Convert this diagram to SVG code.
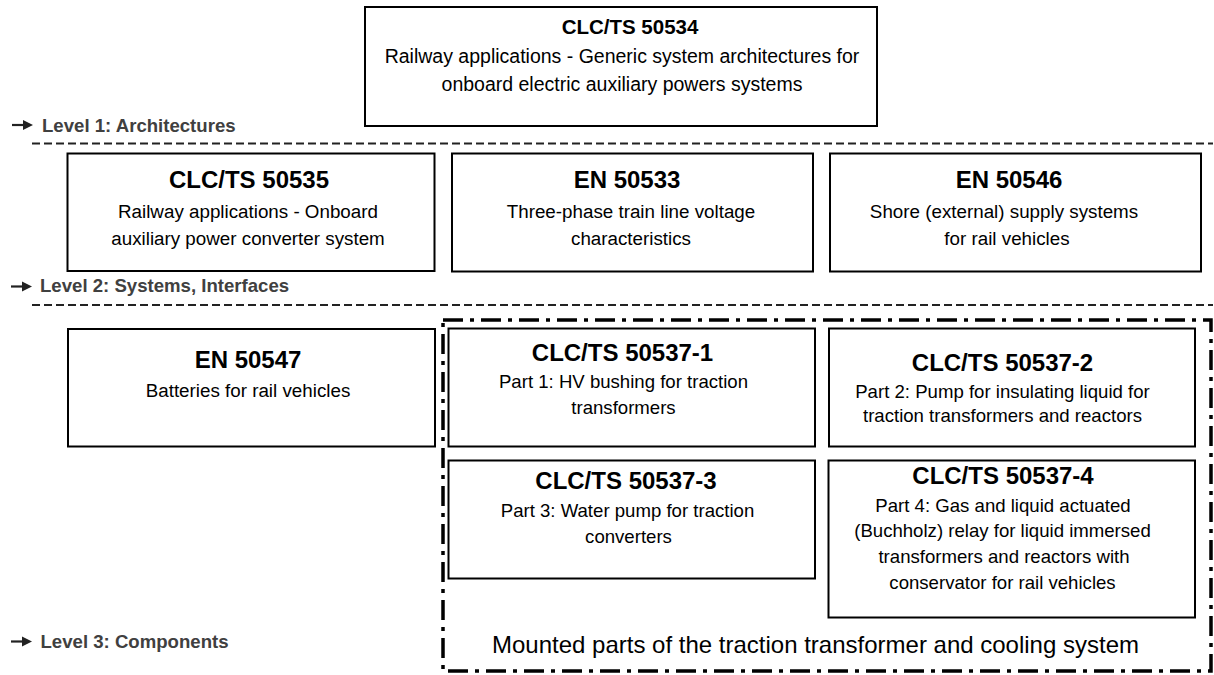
<svg xmlns="http://www.w3.org/2000/svg" width="1214" height="675" viewBox="0 0 1214 675">
<style>
.box{fill:#fff;stroke:#000;stroke-width:2}
.t{font-family:"Liberation Sans",Arial,sans-serif;font-weight:bold;fill:#000;text-anchor:middle}
.s{font-family:"Liberation Sans",Arial,sans-serif;fill:#000;text-anchor:middle}
.lvl{font-family:"Liberation Sans",Arial,sans-serif;font-weight:bold;font-size:18.6px;fill:#404040}
.dash{stroke:#222;stroke-width:2;stroke-dasharray:8 4;fill:none}
.frame{fill:none;stroke:#000;stroke-width:3.5;stroke-dasharray:20 7 4 7}
.arr{stroke:#222;stroke-width:2.2}
</style>
<defs>
<g id="arrowsym"><line x1="0" y1="0" x2="13" y2="0" class="arr"/><path d="M11,-5 L21,0 L11,5 z" fill="#222"/></g>
</defs>
<rect width="1214" height="675" fill="#fff"/>

<g id="levels">
<use href="#arrowsym" x="12" y="125"/>
<text class="lvl" x="42" y="132">Level 1: Architectures</text>
<use href="#arrowsym" x="11" y="286.5"/>
<text class="lvl" x="40" y="292">Level 2: Systems, Interfaces</text>
<use href="#arrowsym" x="11" y="641.5"/>
<text class="lvl" x="40.5" y="648">Level 3: Components</text>
</g>

<g id="connectors">
<line class="dash" x1="32" y1="143.5" x2="1213" y2="143.5"/>
<line class="dash" x1="32" y1="305" x2="1213" y2="305"/>
</g>

<g id="frame">
<rect class="frame" x="443" y="320" width="768" height="351"/>
<text class="s" x="815.5" y="653" font-size="24">Mounted parts of the traction transformer and cooling system</text>
</g>

<g id="clcts50534">
<rect class="box" x="365" y="7" width="512" height="119"/>
<text class="t" x="630" y="33.5" font-size="20.5">CLC/TS 50534</text>
<text class="s" x="622" y="62.5" font-size="19.5">Railway applications - Generic system architectures for</text>
<text class="s" x="622" y="90.5" font-size="19.5">onboard electric auxiliary powers systems</text>
</g>

<g id="clcts50535">
<rect class="box" x="67.5" y="153.5" width="367" height="117.5"/>
<text class="t" x="249" y="188" font-size="24">CLC/TS 50535</text>
<text class="s" x="248" y="218" font-size="18.8">Railway applications - Onboard</text>
<text class="s" x="248" y="245" font-size="18.8">auxiliary power converter system</text>
</g>

<g id="en50533">
<rect class="box" x="452" y="153.5" width="361" height="118"/>
<text class="t" x="627" y="188" font-size="24">EN 50533</text>
<text class="s" x="631" y="218" font-size="18.8">Three-phase train line voltage</text>
<text class="s" x="631" y="245" font-size="18.8">characteristics</text>
</g>

<g id="en50546">
<rect class="box" x="830" y="153.5" width="371" height="118"/>
<text class="t" x="1009" y="188" font-size="24">EN 50546</text>
<text class="s" x="1004" y="218" font-size="18.8">Shore (external) supply systems</text>
<text class="s" x="1007" y="245" font-size="18.8">for rail vehicles</text>
</g>

<g id="en50547">
<rect class="box" x="68" y="329" width="367" height="117.5"/>
<text class="t" x="248" y="368" font-size="24">EN 50547</text>
<text class="s" x="248" y="397" font-size="18.8">Batteries for rail vehicles</text>
</g>

<g id="clcts50537-1">
<rect class="box" x="448.5" y="328.5" width="366.5" height="118"/>
<text class="t" x="622.5" y="360.5" font-size="24">CLC/TS 50537-1</text>
<text class="s" x="623.5" y="387.5" font-size="18.6">Part 1: HV bushing  for traction</text>
<text class="s" x="623.5" y="413.5" font-size="18.6">transformers</text>
</g>

<g id="clcts50537-2">
<rect class="box" x="829" y="328.5" width="366" height="118"/>
<text class="t" x="1002.5" y="370.5" font-size="24">CLC/TS 50537-2</text>
<text class="s" x="1002.5" y="398" font-size="18.6">Part 2: Pump for insulating  liquid  for</text>
<text class="s" x="1002.5" y="421.5" font-size="18.6">traction transformers and reactors</text>
</g>

<g id="clcts50537-3">
<rect class="box" x="448.5" y="460.5" width="366.5" height="118"/>
<text class="t" x="626" y="488.5" font-size="24">CLC/TS 50537-3</text>
<text class="s" x="627.5" y="516.5" font-size="18.6">Part 3: Water pump for traction</text>
<text class="s" x="628.5" y="542.5" font-size="18.6">converters</text>
</g>

<g id="clcts50537-4">
<rect class="box" x="828.5" y="460.5" width="366.5" height="157"/>
<text class="t" x="1003" y="483.5" font-size="24">CLC/TS 50537-4</text>
<text class="s" x="1003" y="512" font-size="18.6">Part 4: Gas and liquid  actuated</text>
<text class="s" x="1002.5" y="537" font-size="18.6">(Buchholz) relay for liquid  immersed</text>
<text class="s" x="1004" y="563" font-size="18.6">transformers and reactors with</text>
<text class="s" x="1002.5" y="589" font-size="18.6">conservator for rail vehicles</text>
</g>
</svg>
